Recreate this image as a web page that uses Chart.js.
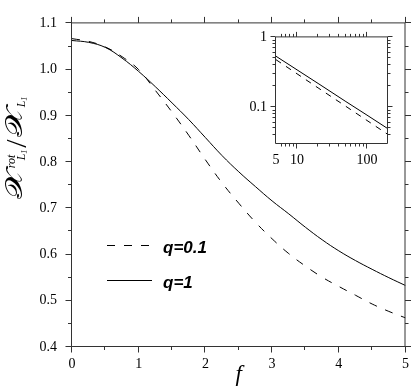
<!DOCTYPE html>
<html><head><meta charset="utf-8">
<script src="https://cdn.jsdelivr.net/npm/chart.js@4/dist/chart.umd.min.js"></script>
<style>
html,body{margin:0;padding:0;background:#fff;}
#wrap{position:relative;width:418px;height:389px;overflow:hidden;}
#main{position:absolute;left:0;top:0;}
#inset{position:absolute;left:240px;top:20px;}
</style></head><body>
<div id="wrap"><canvas id="main" width="418" height="389"></canvas><canvas id="inset" width="160" height="150"></canvas></div>
<script>
// ---- data ----
const fValues   = [0,0.25,0.5,0.75,1.0,1.25,1.5,1.75,2.0,2.25,2.5,2.75,3.0,3.25,3.5,3.75,4.0,4.25,4.5,4.75,5.0];
const ratioQ01  = [1.067,1.061,1.049,1.028,1.000,0.955,0.908,0.858,0.805,0.755,0.711,0.670,0.634,0.602,0.575,0.551,0.531,0.512,0.493,0.477,0.463];
const ratioQ1   = [1.063,1.059,1.048,1.025,0.996,0.963,0.928,0.892,0.853,0.814,0.779,0.747,0.716,0.688,0.659,0.632,0.608,0.587,0.568,0.550,0.533];
const seriesLabels = ['q=0.1','q=1'];
const xTickValues = [0,1,2,3,4,5];
const xMinorTicks = [0.5,1.5,2.5,3.5,4.5];
const yTickValues = [0.4,0.5,0.6,0.7,0.8,0.9,1.0,1.1];
const yMinorTicks = [0.45,0.55,0.65,0.75,0.85,0.95,1.05];

const insetX    = [5,10,20,50,100,200];
const insetQ01  = [0.480,0.302,0.190,0.1034,0.0651,0.041];
const insetQ1   = [0.538,0.344,0.220,0.121,0.0776,0.0495];
const insetXTickValues = [5,10,100];
const insetXMajor = [10,100];
const insetXMinor = [6,7,8,9,20,30,40,50,60,70,80,90];
const insetYTickValues = [0.1,1];
const insetYMajor = [0.1,1];
const insetYMinor = [0.04,0.05,0.06,0.07,0.08,0.09,0.2,0.3,0.4,0.5,0.6,0.7,0.8,0.9];

const AXIS = '#333';
const tickFont = {family:'"Liberation Serif", serif', size:14};

// ---- plugins ----
const frameTicks = {
  id:'frameTicks',
  afterDraw(chart, args, o){
    const {ctx, chartArea:a} = chart;
    const xs = chart.scales.x, ys = chart.scales.y;
    const L=a.left-0.5, R=a.right-0.5, T=a.top-0.5, B=a.bottom-0.5;
    ctx.save();
    ctx.strokeStyle=AXIS; ctx.lineWidth=1; ctx.setLineDash([]);
    ctx.beginPath();
    ctx.rect(L,T,R-L,B-T);
    const xt=(vals,len)=>vals.forEach(v=>{const p=Math.round(xs.getPixelForValue(v))-0.5;
      ctx.moveTo(p,B);ctx.lineTo(p,B+len);ctx.moveTo(p,T);ctx.lineTo(p,T-len);});
    const yt=(vals,len)=>vals.forEach(v=>{const p=Math.round(ys.getPixelForValue(v))-0.5;
      ctx.moveTo(L,p);ctx.lineTo(L-len,p);ctx.moveTo(R,p);ctx.lineTo(R+len,p);});
    xt(o.xMajor,o.major); xt(o.xMinor,o.minor);
    yt(o.yMajor,o.major); yt(o.yMinor,o.minor);
    ctx.stroke();
    ctx.restore();
  }
};

const qLegend = {
  id:'qLegend',
  afterDraw(chart, args, o){
    if(!o.show) return;
    const ctx=chart.ctx;
    ctx.save();
    chart.data.datasets.forEach((ds,i)=>{
      const y = 245.5 + i*35;
      ctx.strokeStyle=ds.borderColor; ctx.lineWidth=1;
      ctx.setLineDash(ds.borderDash||[]);
      ctx.beginPath(); ctx.moveTo(107,y); ctx.lineTo(152,y); ctx.stroke();
      ctx.setLineDash([]);
      ctx.fillStyle='#000';
      ctx.font='italic bold 17px "Liberation Sans", Arial, sans-serif';
      ctx.textBaseline='alphabetic';
      ctx.fillText(ds.label, 163, y+7);
    });
    ctx.restore();
  }
};

const yTitle = {
  id:'yTitle',
  afterDraw(chart, args, o){
    if(!o.show) return;
    const ctx=chart.ctx;
    ctx.save();
    const big='24px "DejaVu Serif", serif';
    const sub='italic 12px "Liberation Serif", serif';
    const subsub='italic 8px "Liberation Serif", serif';
    const sup='italic 12px "Liberation Serif", serif';
    const slash='30px "Liberation Serif", serif';
    const X='\u{1D4B3}';
    const XW=30;
    const w=(t,f)=>{ctx.font=f;return ctx.measureText(t).width;};
    const xs=XW/w(X,big);
    const subW=w('L',sub)+w('1',subsub);
    const block1=Math.max(w('rot',sup)+2, 9+subW)+2;
    const slashW=w('/',slash);
    const total=XW+block1+slashW+2+XW+subW;
    ctx.translate(22,148); ctx.rotate(-Math.PI/2);
    ctx.fillStyle='#000'; ctx.textBaseline='alphabetic';
    let x=-total/2;
    const drawX=()=>{ctx.save();ctx.translate(x,0);ctx.scale(xs,1);ctx.font=big;ctx.fillText(X,0,0);ctx.restore();x+=XW;};
    const put=(t,f,px,dy)=>{ctx.font=f;ctx.fillText(t,px,dy);return ctx.measureText(t).width;};
    drawX();
    put('rot',sup,x+1,-7);
    let lx=x+9; lx+=put('L',sub,lx,3); put('1',subsub,lx,5);
    x+=block1;
    x+=put('/',slash,x,4)+2;
    drawX();
    lx=x; lx+=put('L',sub,lx,3); put('1',subsub,lx,5);
    ctx.restore();
  }
};

// ---- main chart ----
new Chart(document.getElementById('main'),{
  type:'line',
  data:{datasets:[
    {label:seriesLabels[0], data:fValues.map((f,i)=>({x:f,y:ratioQ01[i]})), borderColor:'#000', borderWidth:1, borderDash:[8,9], pointRadius:0, tension:0.4},
    {label:seriesLabels[1], data:fValues.map((f,i)=>({x:f,y:ratioQ1[i]})), borderColor:'#000', borderWidth:1, pointRadius:0, tension:0.4}
  ]},
  options:{
    responsive:false, animation:false,
    layout:{padding:{top:7,right:6,left:0,bottom:0}},
    plugins:{legend:{display:false},tooltip:{enabled:false},
      frameTicks:{xMajor:xTickValues,xMinor:xMinorTicks,yMajor:yTickValues,yMinor:yMinorTicks,major:6,minor:3.5},
      qLegend:{show:true}, yTitle:{show:true}},
    scales:{
      x:{type:'linear',min:0,max:5,
        afterBuildTicks:s=>{s.ticks=xTickValues.map(v=>({value:v}));},
        afterFit:s=>{s.height=42;},
        grid:{display:false,drawTicks:false}, border:{display:false},
        ticks:{font:tickFont,color:'#000',padding:9,maxRotation:0,callback:v=>String(v)},
        title:{display:true,text:'f',font:{family:'"Liberation Serif", serif',style:'italic',size:23},color:'#000',padding:{top:0,bottom:0}}},
      y:{type:'linear',min:0.4,max:1.1,
        afterBuildTicks:s=>{s.ticks=yTickValues.map(v=>({value:v}));},
        afterFit:s=>{s.width=72;},
        grid:{display:false,drawTicks:false}, border:{display:false},
        ticks:{font:tickFont,color:'#000',padding:15,callback:v=>Number(v).toFixed(1)}}
    }
  },
  plugins:[frameTicks,qLegend,yTitle]
});

// ---- inset chart ----
new Chart(document.getElementById('inset'),{
  type:'line',
  data:{datasets:[
    {label:seriesLabels[0], data:insetX.map((v,i)=>({x:v,y:insetQ01[i]})), borderColor:'#000', borderWidth:1, borderDash:[6,6], pointRadius:0},
    {label:seriesLabels[1], data:insetX.map((v,i)=>({x:v,y:insetQ1[i]})), borderColor:'#000', borderWidth:1, pointRadius:0}
  ]},
  options:{
    responsive:false, animation:false,
    layout:{padding:{top:11,right:12,left:0,bottom:0}},
    plugins:{legend:{display:false},tooltip:{enabled:false},
      frameTicks:{xMajor:insetXMajor,xMinor:insetXMinor,yMajor:insetYMajor,yMinor:insetYMinor,major:5,minor:3},
      qLegend:{show:false}, yTitle:{show:false}},
    scales:{
      x:{type:'logarithmic',min:5,max:200,
        afterBuildTicks:s=>{s.ticks=insetXTickValues.map(v=>({value:v}));},
        afterFit:s=>{s.height=26;},
        grid:{display:false,drawTicks:false}, border:{display:false},
        ticks:{font:tickFont,color:'#000',padding:8,maxRotation:0,autoSkip:false,callback:v=>String(v)}},
      y:{type:'logarithmic',min:0.03,max:1,
        afterBuildTicks:s=>{s.ticks=insetYTickValues.map(v=>({value:v}));},
        afterFit:s=>{s.width=36;},
        grid:{display:false,drawTicks:false}, border:{display:false},
        ticks:{font:tickFont,color:'#000',padding:9,autoSkip:false,callback:v=>String(v)}}
    }
  },
  plugins:[frameTicks]
});
</script>
</body></html>
